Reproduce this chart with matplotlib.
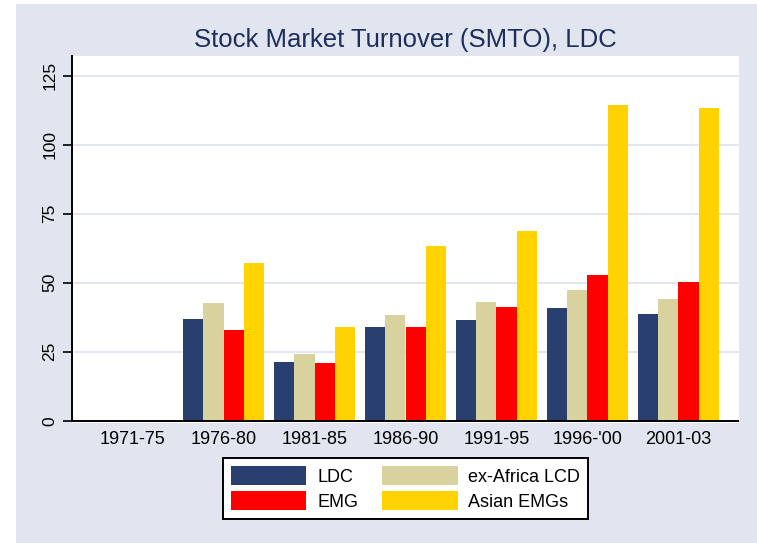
import matplotlib
matplotlib.use("Agg")
import matplotlib.pyplot as plt
import numpy as np
from matplotlib.patches import Rectangle

plt.rcParams['font.family'] = ['Liberation Sans', 'DejaVu Sans']

periods = ["1971-75", "1976-80", "1981-85", "1986-90", "1991-95", "1996-'00", "2001-03"]
ldc = [np.nan, 37.0, 21.4, 34.0, 36.5, 40.7, 38.8]
ex_africa = [np.nan, 42.5, 24.3, 38.2, 43.0, 47.2, 44.2]
emg = [np.nan, 33.0, 20.8, 34.0, 41.3, 52.6, 50.1]
asian = [np.nan, 57.0, 34.0, 63.4, 68.8, 114.5, 113.3]
series_names = ["LDC", "ex-Africa LCD", "EMG", "Asian EMGs"]
series_colors = ["#283F6F", "#D8D29F", "#FF0000", "#FFD200"]
yticks = [0, 25, 50, 75, 100, 125]

W, H = 757, 543
bg = "#E1E5F0"
fig = plt.figure(figsize=(W / 100, H / 100), dpi=100, facecolor="white")
fig.patches.append(Rectangle((16 / W, 0), 1 - 16 / W, 1 - 4 / H, transform=fig.transFigure,
                             facecolor=bg, edgecolor="none", zorder=-10))

ax = fig.add_axes([72 / W, 1 - 423 / H, (739 - 72) / W, (423 - 56) / H])
ax.set_facecolor("white")

x = np.arange(len(periods))
w = 0.2228
all_series = [ldc, ex_africa, emg, asian]
handles = []
for i, (vals, name, col) in enumerate(zip(all_series, series_names, series_colors)):
    b = ax.bar(x + (i - 1.5) * w, vals, width=w, color=col, label=name, zorder=3, linewidth=0)
    handles.append(b)

ax.set_xlim(-0.668, 6.668)
ax.set_ylim(-0.83, 132.1)
ax.set_yticks(yticks)
ax.set_yticklabels([str(t) for t in yticks], rotation=90, va="center", fontsize=12.5,
                   family=['Liberation Sans Narrow', 'Liberation Sans', 'DejaVu Sans'])
ax.set_xticks(x)
ax.set_xticklabels(periods, fontsize=13)
ax.tick_params(axis="x", length=0, pad=6)
ax.tick_params(axis="y", length=6.5, width=1.2, pad=4, direction="out")
for yv in yticks[1:]:
    ax.axhline(yv, color="#DCE2EE", lw=1.2, zorder=1)
ax.axhline(0, color="black", lw=1.4, zorder=4)
for s in ["top", "right", "bottom"]:
    ax.spines[s].set_visible(False)
ax.spines["left"].set_linewidth(1.4)
ax.spines["left"].set_bounds(0, 132.1)

fig.text(405 / W, 1 - 46.7 / H, "Stock Market Turnover (SMTO), LDC", ha="center", va="baseline",
         fontsize=18.5, color="#1E2D5A")

order = [0, 2, 1, 3]
leg = fig.legend([handles[i] for i in order], [series_names[i] for i in order], ncol=2,
                 loc="center", bbox_to_anchor=(405.5 / W, 1 - 488.5 / H), bbox_transform=fig.transFigure,
                 fontsize=13, frameon=True, fancybox=False, edgecolor="black", framealpha=1,
                 handlelength=4.2, handleheight=1.2, handletextpad=0.6, columnspacing=1.3,
                 labelspacing=0.3, borderpad=0.45)
leg.get_frame().set_linewidth(1.4)

fig.savefig("out.png", dpi=100, facecolor=fig.get_facecolor())
